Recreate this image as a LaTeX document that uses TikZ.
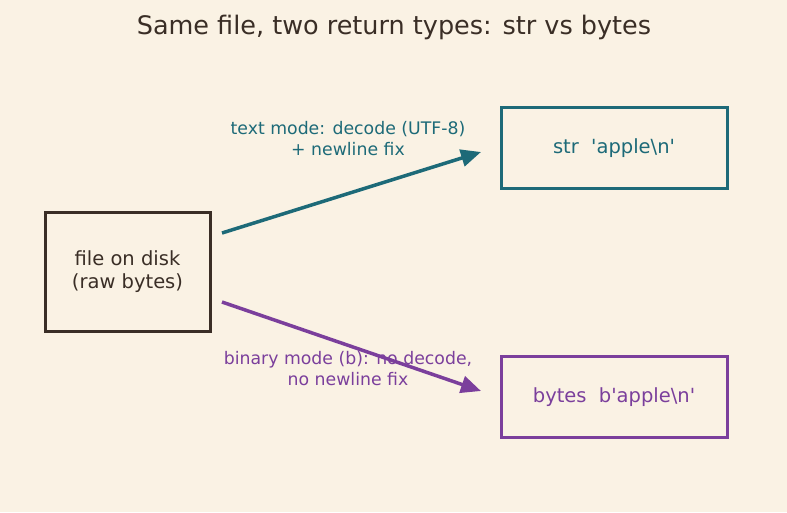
\documentclass[tikz,border=0pt]{standalone}
\usepackage{fontspec}
\setmainfont{DejaVu Sans}
\usetikzlibrary{arrows.meta}
\definecolor{bgc}{HTML}{FAF2E4}
\definecolor{ink}{HTML}{3A2E26}
\definecolor{teal2}{HTML}{1D6A78}
\definecolor{purp}{HTML}{7B3F9C}
\tikzset{
  box/.style={draw, line width=3pt, rectangle, minimum width=165pt, minimum height=119pt, align=center, inner sep=0pt, font=\fontsize{19.5}{23}\selectfont},
  outbox/.style={box, minimum width=226pt, minimum height=81pt},
  lbl/.style={align=center, font=\fontsize{17.3}{21}\selectfont, inner sep=0pt},
  conn/.style={line width=3.5pt, -{Triangle[length=20pt,width=17pt]}},
}
\begin{document}
\begin{tikzpicture}[x=1pt,y=-1pt]
\fill[bgc] (0,0) rectangle (787,512);
\useasboundingbox (0,0) rectangle (787,512);
\node[text=ink, font=\fontsize{25.5}{30}\selectfont] (title) at (394,27) {Same file, two return types: str vs bytes};
\node[box, draw=ink, text=ink] (file) at (127.5,272) {file on disk\\(raw bytes)};
\node[outbox, draw=teal2, text=teal2] (str) at (614,148) {str\ \ \textquotesingle apple\textbackslash n\textquotesingle};
\node[outbox, draw=purp, text=purp] (bytes) at (614,397) {bytes\ \ b\textquotesingle apple\textbackslash n\textquotesingle};
\coordinate (t0) at (222,233);
\coordinate (t1) at (481,152);
\coordinate (b0) at (222,302);
\coordinate (b1) at (481,391);
\draw[conn, teal2] (t0) -- (t1);
\draw[conn, purp] (b0) -- (b1);
\node[lbl, text=teal2] (lt) at (348,139) {text mode: decode (UTF-8)\\+ newline fix};
\node[lbl, text=purp] (lb) at (348,369) {binary mode (b): no decode,\\no newline fix};
\end{tikzpicture}
\end{document}
